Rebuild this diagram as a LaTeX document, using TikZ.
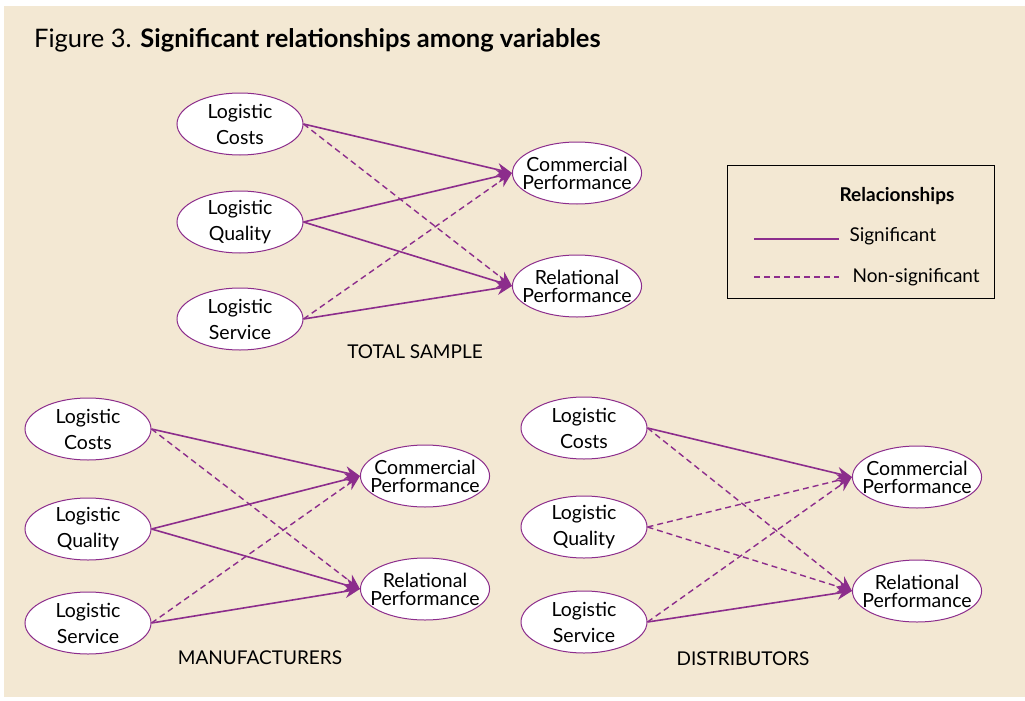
\documentclass[tikz,border=0pt]{standalone}
\usepackage{fontspec}
\setmainfont{Lato}
\usetikzlibrary{shapes.geometric,arrows.meta}
\definecolor{bgc}{RGB}{243,232,211}
\definecolor{purp}{RGB}{140,45,140}
\tikzset{
  var/.style={ellipse, draw=purp, line width=1pt, fill=white, minimum width=126pt, minimum height=62pt, inner sep=0pt, align=center, font=\fontsize{19.5}{26}\selectfont},
  perf/.style={ellipse, draw=purp, line width=1pt, fill=white, minimum width=127pt, minimum height=62pt, inner xsep=-9pt, inner ysep=0pt, align=center, font=\fontsize{19.5}{18}\selectfont},
  sig/.style={draw=purp, line width=1.6pt, -{Stealth[length=15pt,width=13pt]}},
  nsig/.style={draw=purp, line width=1.4pt, dash pattern=on 6pt off 4pt, -{Stealth[length=15pt,width=13pt]}},
  grouplabel/.style={font=\fontsize{19}{22}\selectfont},
  legtext/.style={anchor=west, font=\fontsize{19}{22}\selectfont}
}
\begin{document}
\begin{tikzpicture}[x=1pt,y=-1pt]
\useasboundingbox (0,0) rectangle (1025,701);
\fill[bgc] (4,6) rectangle (1025,697);
\node[anchor=base west, inner sep=0pt, font=\fontsize{25.5}{28}\selectfont] (title) at (34,48) {Figure 3. \textbf{Significant relationships among variables}};
% TOTAL SAMPLE
\node[var] (tc) at (240,124) {Logistic\\Costs};
\node[var] (tq) at (240,222) {Logistic\\Quality};
\node[var] (ts) at (240,319) {Logistic\\Service};
\node[perf] (tcp) at (577,173) {Commercial\\Performance};
\node[perf] (trp) at (577,286) {Relational\\Performance};
\node[grouplabel] (tlab) at (415,352) {TOTAL SAMPLE};
\draw[sig] (tc.east) -- (tcp.west);
\draw[nsig] (tc.east) -- (trp.west);
\draw[sig] (tq.east) -- (tcp.west);
\draw[sig] (tq.east) -- (trp.west);
\draw[nsig] (ts.east) -- (tcp.west);
\draw[sig] (ts.east) -- (trp.west);
% MANUFACTURERS
\node[var] (mc) at (88,429) {Logistic\\Costs};
\node[var] (mq) at (88,529) {Logistic\\Quality};
\node[var] (ms) at (88,623) {Logistic\\Service};
\node[perf] (mcp) at (425,476) {Commercial\\Performance};
\node[perf] (mrp) at (425,589) {Relational\\Performance};
\node[grouplabel] (mlab) at (260,658) {MANUFACTURERS};
\draw[sig] (mc.east) -- (mcp.west);
\draw[nsig] (mc.east) -- (mrp.west);
\draw[sig] (mq.east) -- (mcp.west);
\draw[sig] (mq.east) -- (mrp.west);
\draw[nsig] (ms.east) -- (mcp.west);
\draw[sig] (ms.east) -- (mrp.west);
% DISTRIBUTORS
\node[var] (dc) at (584,428) {Logistic\\Costs};
\node[var] (dq) at (584,527) {Logistic\\Quality};
\node[var] (ds) at (584,622) {Logistic\\Service};
\node[perf] (dcp) at (917,477) {Commercial\\Performance};
\node[perf] (drp) at (917,591) {Relational\\Performance};
\node[grouplabel] (dlab) at (743,659) {DISTRIBUTORS};
\draw[sig] (dc.east) -- (dcp.west);
\draw[nsig] (dc.east) -- (drp.west);
\draw[nsig] (dq.east) -- (dcp.west);
\draw[nsig] (dq.east) -- (drp.west);
\draw[nsig] (ds.east) -- (dcp.west);
\draw[sig] (ds.east) -- (drp.west);
% Legend
\node[draw=black, line width=1pt, fill=bgc, minimum width=267pt, minimum height=133pt, inner sep=0pt] (legend) at (860.5,231.5) {};
\node[font=\bfseries\fontsize{19}{22}\selectfont] (legtitle) at (897,196) {Relacionships};
\coordinate (s1) at (754,239);
\coordinate (s2) at (839,239);
\coordinate (n1) at (754,277);
\coordinate (n2) at (839,277);
\draw[draw=purp, line width=1.6pt] (s1) -- (s2);
\draw[draw=purp, line width=1.6pt, dash pattern=on 6pt off 4pt] (n1) -- (n2);
\node[legtext] (sigt) at (846,236) {Significant};
\node[legtext] (nsigt) at (849,277) {Non-significant};
\end{tikzpicture}
\end{document}
